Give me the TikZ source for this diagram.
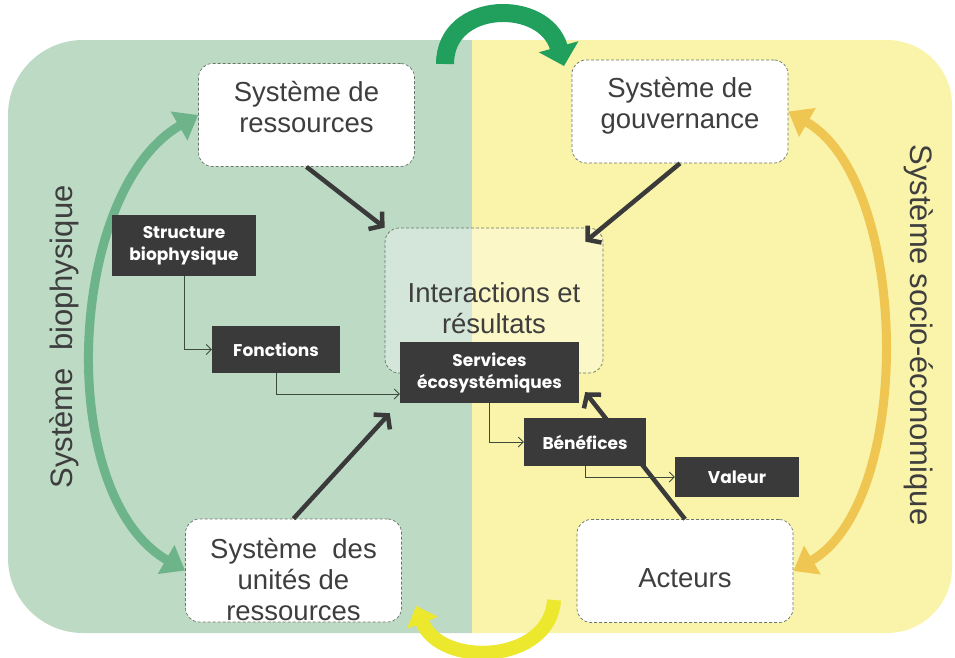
\documentclass[tikz,border=0pt]{standalone}
\usepackage{fontspec}
\setmainfont{Liberation Sans}
\newfontfamily\boxfont{Poppins}
\usetikzlibrary{arrows.meta}

\definecolor{bggreen}{RGB}{189,218,197}
\definecolor{bgyellow}{RGB}{250,244,170}
\definecolor{darkfill}{RGB}{58,58,58}
\definecolor{labeltext}{RGB}{62,62,62}
\definecolor{boxline}{RGB}{105,118,105}
\definecolor{linkgray}{RGB}{60,75,62}
\definecolor{arcgreen}{RGB}{110,180,138}
\definecolor{arctop}{RGB}{32,160,92}
\definecolor{arcgold}{RGB}{240,198,82}
\definecolor{arcyellow}{RGB}{235,232,45}

\begin{document}
\begin{tikzpicture}[x=1pt,y=-1pt,
  sysbox/.style={draw=boxline, line width=0.7pt, dash pattern=on 3pt off 2pt, fill=white, rounded corners=14pt,
    minimum width=216pt, minimum height=103pt, inner sep=0pt, align=center,
    text=labeltext, font=\fontsize{27.5}{31}\selectfont},
  darkbox/.style={fill=darkfill, text=white, inner sep=0pt, align=center,
    font=\boxfont\bfseries\fontsize{17}{22}\selectfont},
  link/.style={draw=linkgray, line width=0.8pt, -{Straight Barb[length=5pt,width=10pt]}},
  bigarrow/.style={draw=darkfill, line width=4.5pt, -{Straight Barb[length=9pt,width=22pt]}},
  sidelabel/.style={text=labeltext, font=\fontsize{31}{36}\selectfont}]
  \useasboundingbox (0,0) rectangle (955,657);

  \begin{scope}
    \clip (8,40) rectangle (472,633);
    \fill[bggreen, rounded corners=75pt] (8,40) rectangle (600,633);
  \end{scope}
  \begin{scope}
    \clip (472,40) rectangle (952,633);
    \fill[bgyellow, rounded corners=65pt] (350,40) rectangle (952,633);
  \end{scope}

  \node[sysbox] (res) at (306.5,115) {Système de\\ressources\rule[-16pt]{0pt}{16pt}};
  \node[sysbox] (gov) at (680,111.5) {Système de\\gouvernance\rule[-17pt]{0pt}{17pt}};
  \node[sysbox] (uni) at (293.5,570.5) {\rule{0pt}{38pt}Système\ \ des\\unités de\\ressources};
  \node[sysbox] (act) at (685,571) {\rule{0pt}{34pt}Acteurs};
  \node[sysbox, fill=white, fill opacity=0.35, text opacity=1, minimum width=218pt,
    minimum height=145pt] (inter) at (494,300.5) {\rule{0pt}{36pt}Interactions et\\résultats};

  \node[sidelabel, rotate=90] (bio) at (64,337) {Système\ \ biophysique};
  \node[sidelabel, rotate=-90] (soc) at (919,335) {Système socio-économique};

  \draw[arcgreen, line width=9pt, {Triangle[length=22pt,width=32pt]}-{Triangle[length=22pt,width=32pt]}]
    (res.west) to[out=210, in=150, looseness=0.85] (uni.west);
  \draw[arcgold, line width=9pt, {Triangle[length=22pt,width=32pt]}-{Triangle[length=22pt,width=32pt]}]
    (gov.east) to[out=-30, in=30, looseness=0.78] (act.east);

  \coordinate (topl) at (445,64);
  \coordinate (topr) at (564,66);
  \draw[arctop, line width=18pt, -{Triangle[length=20pt,width=40pt]}]
    (topl) .. controls (445,0) and (545,-2) .. (topr);
  \coordinate (botr) at (554,600);
  \coordinate (botl) at (416,606);
  \draw[arcyellow, line width=14pt, -{Triangle[length=18pt,width=32pt]}]
    (botr) .. controls (550,664) and (440,668) .. (botl);

  \draw[bigarrow] (res.south) -- (inter.north west);
  \draw[bigarrow] (gov.south) -- ([xshift=-18pt,yshift=-14pt]inter.north east);

  \node[darkbox, minimum width=144pt, minimum height=61pt] (str) at (184,245.5) {Structure\\biophysique};
  \node[darkbox, minimum width=128pt, minimum height=47pt] (fon) at (276,349.5) {Fonctions};
  \node[darkbox, minimum width=179pt, minimum height=61pt] (srv) at (489.5,372.5) {Services\\écosystémiques};

  \draw[bigarrow] (uni.north) -- ([xshift=-10pt,yshift=-10pt]srv.south west);
  \draw[bigarrow] (act.north) -- ([xshift=6pt,yshift=11pt]srv.south east);

  \node[darkbox, minimum width=122pt, minimum height=48pt] (ben) at (585,442) {Bénéfices};
  \node[darkbox, minimum width=124pt, minimum height=40pt] (val) at (737,477) {Valeur};

  \draw[link] (str.south) |- (fon.west);
  \draw[link] (fon.south) |- ([yshift=-21.5pt]srv.west);
  \draw[link] (srv.south) |- (ben.west);
  \draw[link] (ben.south) |- (val.west);
\end{tikzpicture}
\end{document}
